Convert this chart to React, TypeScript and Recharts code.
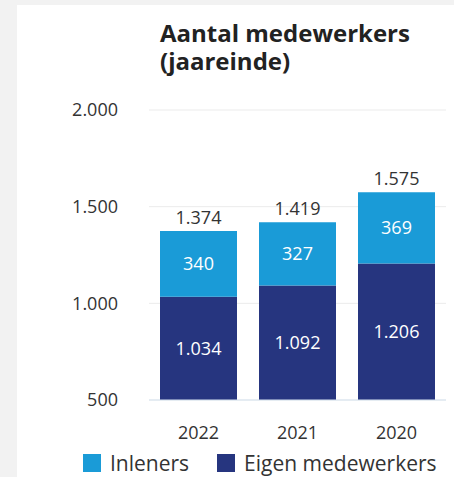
import { BarChart, Bar, XAxis, YAxis, CartesianGrid, Legend, LabelList } from 'recharts'

const years = ['2022', '2021', '2020']
const eigenMedewerkers = [1034, 1092, 1206]
const inleners = [340, 327, 369]
const yTicks = [500, 1000, 1500, 2000]
const titleLines = ['Aantal medewerkers', '(jaareinde)']

const LIGHT = '#1a9bd7'
const DARK = '#26357f'
const FONT = '"Open Sans", sans-serif'

const data = years.map((year, i) => ({
    year,
    eigen: eigenMedewerkers[i],
    inleners: inleners[i],
    total: eigenMedewerkers[i] + inleners[i],
}))

// dutch thousands separator
const fmt = (v: any) => String(v).replace(/\B(?=(\d{3})+(?!\d))/g, '.')

function LegendContent() {
    const items = [
        { label: 'Inleners', color: LIGHT },
        { label: 'Eigen medewerkers', color: DARK },
    ]
    return (
        <div style={{ display: 'flex', alignItems: 'center', height: 28, fontFamily: FONT, fontSize: 21, color: '#333' }}>
            {items.map((it, i) => (
                <div key={it.label} style={{ display: 'flex', alignItems: 'center', marginLeft: i === 0 ? 0 : 28 }}>
                    <span style={{ display: 'inline-block', width: 18, height: 18, background: it.color }} />
                    <span style={{ marginLeft: 9, lineHeight: '28px' }}>{it.label}</span>
                </div>
            ))}
        </div>
    )
}

export default function App() {
    return (
        <div style={{ position: 'absolute', left: 0, top: 0, width: 454, height: 477, background: '#f2f2f2', overflow: 'hidden' }}>
            <div style={{ position: 'absolute', left: 17, top: 5, width: 437, height: 472, background: '#fff' }} />
            {titleLines.map((line, i) => (
                <div key={line} style={{
                    position: 'absolute',
                    left: 160,
                    top: 19 + i * 28,
                    height: 28,
                    whiteSpace: 'nowrap',
                    fontFamily: FONT,
                    fontWeight: 700,
                    fontSize: 24,
                    lineHeight: '28px',
                    color: '#222',
                }}>
                    {line}
                </div>
            ))}
            <div style={{ position: 'absolute', left: 0, top: 0 }}>
                <BarChart width={454} height={477} data={data} margin={{ top: 110, right: 8, bottom: 0, left: 0 }}>
                    <CartesianGrid vertical={false} stroke="#ebebeb" />
                    <XAxis
                        dataKey="year"
                        height={49}
                        axisLine={{ stroke: '#d5e3f0' }}
                        tickLine={false}
                        tickSize={0}
                        tickMargin={26}
                        tick={{ fill: '#333', fontSize: 18, fontFamily: FONT }}
                    />
                    <YAxis
                        width={149}
                        domain={[500, 2000]}
                        ticks={yTicks}
                        allowDataOverflow
                        axisLine={false}
                        tickLine={false}
                        tickSize={0}
                        tickMargin={31}
                        tickFormatter={fmt}
                        tick={{ fill: '#333', fontSize: 18, fontFamily: FONT }}
                    />
                    <Legend
                        verticalAlign="bottom"
                        align="left"
                        wrapperStyle={{ left: 83, bottom: 0, width: 371, height: 28 }}
                        content={() => <LegendContent />}
                    />
                    <Bar dataKey="eigen" stackId="a" fill={DARK} barSize={77} isAnimationActive={false}>
                        <LabelList dataKey="eigen" position="center" formatter={fmt} fill="#fff" fontSize={18} fontFamily={FONT} />
                    </Bar>
                    <Bar dataKey="inleners" stackId="a" fill={LIGHT} barSize={77} isAnimationActive={false}>
                        <LabelList dataKey="inleners" position="center" formatter={fmt} fill="#fff" fontSize={18} fontFamily={FONT} />
                        <LabelList dataKey="total" position="top" offset={7} formatter={fmt} fill="#333" fontSize={18} fontFamily={FONT} />
                    </Bar>
                </BarChart>
            </div>
        </div>
    )
}
